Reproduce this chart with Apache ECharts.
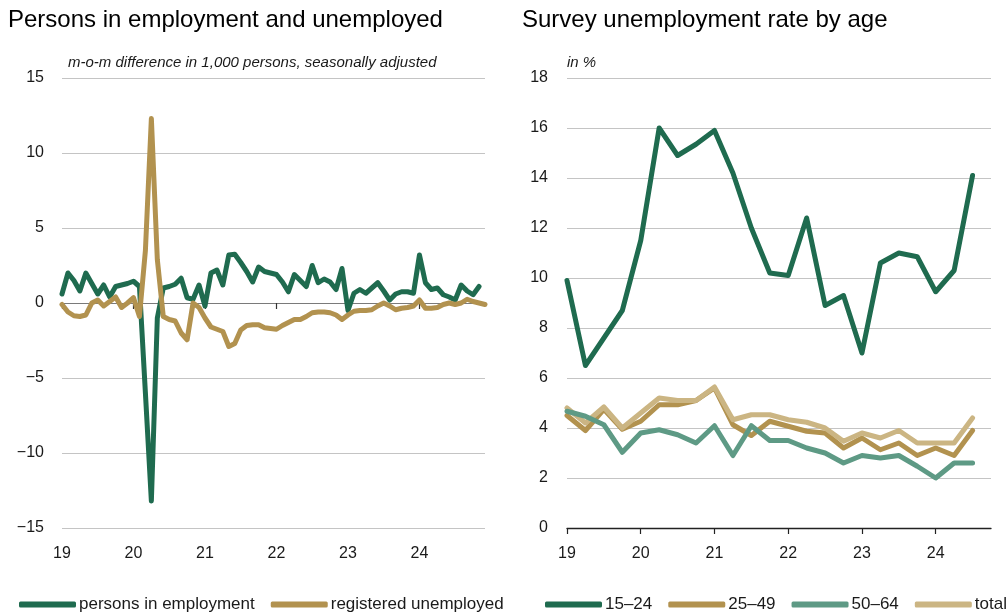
<!DOCTYPE html>
<html>
<head>
<meta charset="utf-8">
<script src="https://cdn.jsdelivr.net/npm/echarts@6/dist/echarts.min.js"></script>
<style>
html,body{margin:0;padding:0;background:#fff;}
#c{width:1006px;height:613px;}
</style>
</head>
<body>
<div id="c"></div>
<script>
// ---- data ----
const years = ['2019','2020','2021','2022','2023','2024'];
const yearTickLabels = ['19','20','21','22','23','24'];
// monthly, Jan 2019 - Dec 2024
const employment = [
  0.6, 2.0, 1.5, 0.8, 2.0, 1.3, 0.6, 1.2, 0.4, 1.1, 1.2, 1.3,
  1.45, 1.1, -6.0, -13.2, -1.0, 1.0, 1.1, 1.25, 1.65, 0.35, 0.25, 1.2,
  -0.2, 2.0, 2.2, 1.2, 3.2, 3.25, 2.7, 2.1, 1.4, 2.4, 2.1, 2.0,
  1.9, 1.4, 0.75, 1.9, 1.5, 1.1, 2.5, 1.35, 1.6, 1.4, 0.9, 2.3,
  -0.5, 0.65, 0.9, 0.65, 1.0, 1.35, 0.8, 0.2, 0.6, 0.75, 0.75, 0.65,
  3.2, 1.35, 0.9, 1.0, 0.55, 0.4, 0.2, 1.2, 0.8, 0.55, 1.1, null
];
const unemployed = [
  -0.1, -0.6, -0.85, -0.9, -0.8, 0.0, 0.2, -0.2, 0.1, 0.4, -0.3, 0.0,
  0.35, -0.9, 3.5, 12.3, 2.9, -0.9, -1.1, -1.2, -2.0, -2.45, 0.0, -0.3,
  -1.0, -1.6, -1.75, -1.9, -2.9, -2.7, -1.8, -1.5, -1.45, -1.45, -1.65, -1.7,
  -1.75, -1.5, -1.3, -1.1, -1.1, -0.9, -0.65, -0.6, -0.6, -0.65, -0.8, -1.1,
  -0.8, -0.55, -0.5, -0.5, -0.45, -0.2, 0.0, -0.2, -0.45, -0.35, -0.3, -0.2,
  0.2, -0.35, -0.35, -0.3, -0.1, 0.0, -0.1, 0.0, 0.25, 0.1, 0.0, -0.1
];
// quarterly, Q1 2019 - Q4 2024
const age15_24 = [9.9, 6.5, 7.6, 8.7, 11.5, 16.0, 14.9, 15.35, 15.9, 14.2, 12.0, 10.2, 10.1, 12.4, 8.9, 9.3, 7.0, 10.6, 11.0, 10.85, 9.45, 10.3, 14.1, null];
const age25_49 = [4.5, 3.9, 4.75, 3.95, 4.27, 4.93, 4.93, 5.1, 5.6, 4.13, 3.7, 4.27, 4.07, 3.87, 3.8, 3.2, 3.6, 3.13, 3.4, 2.9, 3.2, 2.9, 3.9, null];
const age50_64 = [4.67, 4.47, 4.13, 3.03, 3.8, 3.93, 3.73, 3.4, 4.09, 2.9, 4.09, 3.5, 3.5, 3.2, 3.0, 2.6, 2.9, 2.8, 2.9, 2.47, 2.0, 2.6, 2.6, null];
const ageTotal = [4.8, 4.2, 4.84, 4.0, 4.6, 5.2, 5.1, 5.1, 5.64, 4.33, 4.53, 4.53, 4.33, 4.23, 4.0, 3.47, 3.8, 3.6, 3.9, 3.4, 3.4, 3.4, 4.4, null];

// ---- categories ----
const months = [];
years.forEach(y => { for (let m = 1; m <= 12; m++) months.push(y + '-' + (m < 10 ? '0' + m : m)); });
const quarters = [];
years.forEach(y => { for (let q = 1; q <= 4; q++) quarters.push(y + '-Q' + q); });

const FONT = "'Liberation Sans', Arial, sans-serif";
const TXT = '#1a1a1a';
const C_EMP = '#1f6b4f';
const C_UNE = '#b2924f';
const C_OLD = '#5e9a85';
const C_TOT = '#cbb583';
const LW = 5;

const monthTick = (i) => i % 12 === 0;
const quarterTick = (i) => i % 4 === 0;
const yearLabel = (v) => { const y = v.slice(0, 4); return yearTickLabels[years.indexOf(y)]; };
const minus = (v) => String(v).replace('-', '\u2212');

const chart = echarts.init(document.getElementById('c'), null, {renderer: 'canvas'});

const lineSeries = (name, data, color, xi, yi, z) => ({
  name, type: 'line', data, xAxisIndex: xi, yAxisIndex: yi,
  symbol: 'none', showSymbol: false, smooth: false, connectNulls: false,
  z: z || 2,
  lineStyle: {color, width: LW, cap: 'round', join: 'round'},
  itemStyle: {color},
  emphasis: {disabled: true},
  animation: false
});

const option = {
  animation: false,
  textStyle: {fontFamily: FONT, color: TXT},
  title: [
    {text: 'Persons in employment and unemployed', left: 3, top: 3,
     textStyle: {fontFamily: FONT, fontSize: 24, fontWeight: 'normal', color: '#000'}},
    {text: 'Survey unemployment rate by age', left: 517, top: 3,
     textStyle: {fontFamily: FONT, fontSize: 24, fontWeight: 'normal', color: '#000'}},
    {text: 'm-o-m difference in 1,000 persons, seasonally adjusted', left: 63, top: 50,
     textStyle: {fontFamily: FONT, fontSize: 15, fontStyle: 'italic', fontWeight: 'normal', color: TXT}},
    {text: 'in %', left: 562, top: 50,
     textStyle: {fontFamily: FONT, fontSize: 15, fontStyle: 'italic', fontWeight: 'normal', color: TXT}}
  ],
  legend: [
    {left: 14, top: 591, width: 500, itemWidth: 57, itemHeight: 6, itemGap: 16, icon: 'roundRect',
     data: ['persons in employment', 'registered unemployed'],
     textStyle: {fontFamily: FONT, fontSize: 17, color: TXT, padding: [0, 0, 0, -2]}},
    {left: 540, top: 591, width: 500, itemWidth: 57, itemHeight: 6, itemGap: 16, icon: 'roundRect',
     data: ['15\u201324', '25\u201349', '50\u201364', 'total'],
     textStyle: {fontFamily: FONT, fontSize: 17, color: TXT, padding: [0, 0, 0, -2]}}
  ],
  grid: [
    {left: 62, top: 78, width: 423, height: 450, containLabel: false},
    {left: 567, top: 78, width: 424, height: 450, containLabel: false}
  ],
  xAxis: [
    {type: 'category', gridIndex: 0, data: months, boundaryGap: false,
     axisLine: {show: true, onZero: true, lineStyle: {color: '#7a7a7a', width: 1.2}},
     axisTick: {show: true, interval: monthTick, length: 6, inside: false, lineStyle: {color: '#333', width: 1.2}},
     axisLabel: {show: false}, splitLine: {show: false}},
    {type: 'category', gridIndex: 0, data: months, boundaryGap: false, position: 'bottom',
     axisLine: {show: false, onZero: false}, axisTick: {show: false},
     axisLabel: {show: true, interval: monthTick, formatter: yearLabel, margin: 18,
       fontFamily: FONT, fontSize: 16, color: TXT},
     splitLine: {show: false}},
    {type: 'category', gridIndex: 1, data: quarters, boundaryGap: false,
     axisLine: {show: true, onZero: true, lineStyle: {color: '#222', width: 1.3}},
     axisTick: {show: true, interval: quarterTick, length: 6, inside: false, lineStyle: {color: '#222', width: 1.2}},
     axisLabel: {show: true, interval: quarterTick, formatter: yearLabel, margin: 18,
       fontFamily: FONT, fontSize: 16, color: TXT},
     splitLine: {show: false}}
  ],
  yAxis: [
    {type: 'value', gridIndex: 0, min: -15, max: 15, interval: 5,
     axisLine: {show: false}, axisTick: {show: false},
     axisLabel: {formatter: minus, margin: 18, fontFamily: FONT, fontSize: 16, color: TXT},
     splitLine: {show: true, lineStyle: {color: '#c4c4c4', width: 1.2}}},
    {type: 'value', gridIndex: 1, min: 0, max: 18, interval: 2,
     axisLine: {show: false}, axisTick: {show: false},
     axisLabel: {margin: 19, fontFamily: FONT, fontSize: 16, color: TXT},
     splitLine: {show: true, lineStyle: {color: '#c4c4c4', width: 1.2}}}
  ],
  series: [
    lineSeries('persons in employment', employment, C_EMP, 0, 0, 3),
    lineSeries('registered unemployed', unemployed, C_UNE, 0, 0, 4),
    lineSeries('15\u201324', age15_24, C_EMP, 2, 1, 3),
    lineSeries('25\u201349', age25_49, C_UNE, 2, 1, 4),
    lineSeries('50\u201364', age50_64, C_OLD, 2, 1, 6),
    lineSeries('total', ageTotal, C_TOT, 2, 1, 5)
  ]
};
chart.setOption(option);
</script>
</body>
</html>
